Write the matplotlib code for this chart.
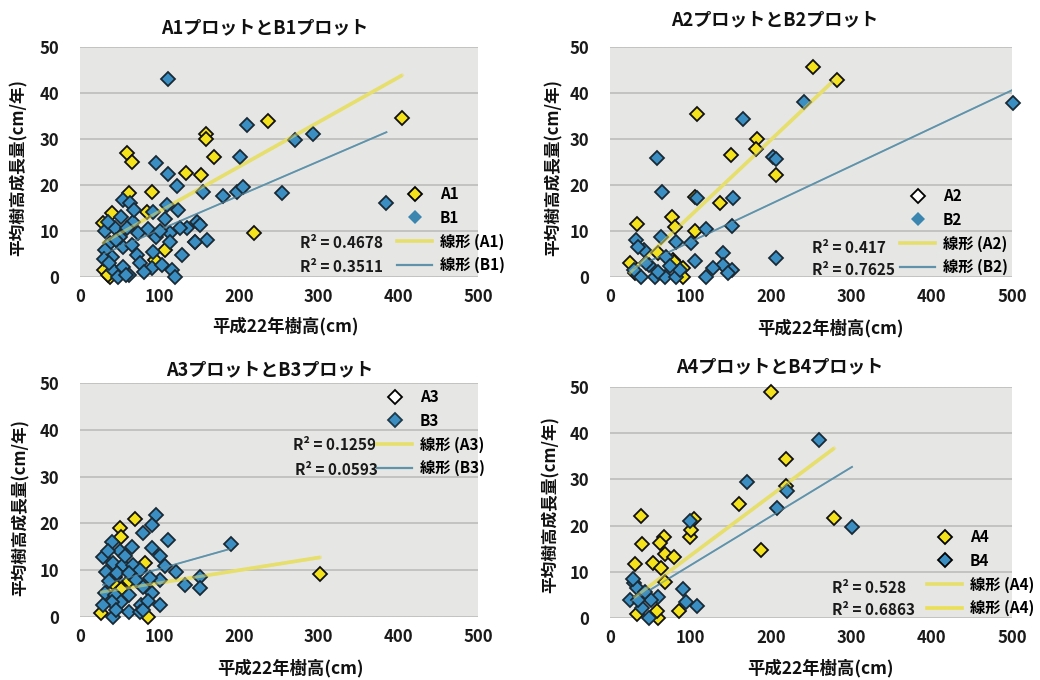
import matplotlib
matplotlib.use("Agg")
import matplotlib.pyplot as plt
from matplotlib.lines import Line2D
import numpy as np

plt.rcParams['font.family'] = ['Noto Sans CJK JP', 'DejaVu Sans']

# ---------------- data ----------------
A1_x = [405, 236, 158, 158, 168, 59, 65, 133, 152, 90, 62, 218, 40, 29, 107, 84, 30, 38, 94, 35]
A1_y = [34.5, 34, 31, 30, 26, 27, 25, 22.6, 22.2, 18.5, 18.2, 9.5, 14, 11.7, 5.8, 14.2, 1.5, 0.1, 3.7, 0.5]
B1_x = [110, 210, 270, 293, 201, 96, 111, 122, 154, 180, 197, 205, 254, 385, 54, 63, 109, 123, 92,
        52, 67, 107, 147, 134, 151, 31, 44, 59, 73, 96, 113, 126, 159, 144, 113, 145, 128, 92, 90,
        103, 115, 119, 38, 54, 71, 40, 31, 42, 54, 61, 48, 50, 30,
        35, 45, 65, 75, 58, 85, 100, 68, 36, 80]
B1_y = [43, 33, 29.8, 31, 26, 24.8, 22.5, 19.8, 18.4, 17.6, 18.4, 19.6, 18.2, 16, 16.7, 16, 15.6, 14.6, 14.2,
        13.1, 12, 12.7, 12, 10.6, 11.3, 9.9, 10.6, 10.6, 9.5, 8.8, 9.5, 10.6, 8, 7.7, 7.7, 7.6, 4.8, 5.4, 2,
        2.6, 1.5, 0, 7.3, 6.6, 4.8, 4.4, 5.9, 1.5, 2.2, 0.4, 0.1, 8.8, 4,
        12, 8, 7, 3, 0.5, 10.5, 10, 14.5, 3, 1]

A2_x = [253, 282, 108, 183, 181, 151, 206, 137, 106, 77, 81, 106, 34, 25, 31, 91, 78, 60, 91, 80]
A2_y = [45.6, 42.8, 35.4, 30, 27.8, 26.5, 22.2, 16.1, 17.4, 13, 10.9, 10, 11.5, 3, 0.9, 2, 3.7, 5.2, 0, 3.3]
B2_x = [501, 241, 165, 203, 207, 58, 65, 108, 153, 152, 120, 101, 82, 64, 32, 42, 106, 141, 141, 128,
        120, 152, 206, 70, 49, 147, 39, 56, 68, 82, 87, 30, 45, 60, 75, 35]
B2_y = [37.8, 38, 34.3, 26, 25.6, 25.8, 18.5, 17.2, 17.2, 11, 10.5, 7.4, 7.6, 8.7, 8, 5.8, 3.5, 5.2, 2.6, 2,
        0, 1.5, 4.1, 4.4, 2.6, 0.8, 0, 0.1, 0, 0, 1.5, 1.5, 3, 1, 2.5, 6.5]

A3_x = [302, 69, 50, 52, 82, 86, 27, 44, 61, 52, 41]
A3_y = [9.2, 21, 19, 17.2, 11.5, 0, 0.8, 8.6, 7.6, 5.9, 7.2]
B3_x = [190, 96, 90, 79, 111, 40, 90, 50, 100, 29, 107, 121, 42, 54, 67, 75, 33, 46, 61, 36, 100, 88,
        132, 151, 151, 79, 31, 44, 61, 90, 52, 40, 77, 100, 61, 42, 75, 29, 79,
        35, 57, 70, 85, 65, 45]
B3_y = [15.6, 21.8, 19.7, 17.9, 16.5, 16.1, 14.7, 14, 13, 12.9, 10.8, 9.7, 11.5, 11.1, 11.1, 10.1, 9.7, 9.4,
        9.4, 7.6, 7.9, 8.3, 6.9, 8.6, 6.1, 6.5, 5.1, 4.7, 4.7, 5.1, 3.3, 3.3, 2.6, 2.6, 1.1, 0.1, 1.1, 2.6, 1.5,
        14, 13, 8, 3.5, 15, 1.5]

A4_x = [200, 219, 219, 160, 279, 188, 39, 104, 100, 101, 40, 67, 62, 68, 80, 31, 54, 64, 68, 86, 33, 60, 58]
A4_y = [49, 34.5, 28.5, 24.6, 21.6, 14.7, 22, 21.4, 17.5, 19, 16, 17.6, 16.3, 13.8, 13.3, 11.6, 11.8, 10.8,
        7.7, 1.6, 0.9, 0, 1.5]
B4_x = [260, 170, 220, 208, 301, 100, 91, 94, 108, 30, 60, 51, 40, 48, 25, 33, 44, 35, 28]
B4_y = [38.5, 29.4, 27.5, 23.9, 19.8, 20.9, 6.2, 3.4, 2.6, 7.6, 4.5, 4, 2.2, 0, 3.8, 6.4, 5.7, 3.9, 8.5]

# linear trend lines (slope, intercept)
trend_A1 = (0.097, 4.6)
trend_B1 = (0.0745, 2.8)
trend_A2 = (0.165, -3.2)
trend_B2 = (0.0824, -0.6)
trend_A3 = (0.027, 4.6)
trend_B3 = (0.048, 5.5)
trend_A4 = (0.13, 0.5)
trend_B4 = (0.106, 0.8)

r2_labels = [["R² = 0.4678", "R² = 0.3511"],
             ["R² = 0.417", "R² = 0.7625"],
             ["R² = 0.1259", "R² = 0.0593"],
             ["R² = 0.528", "R² = 0.6863"]]
legend_labels = [["A1", "B1", "線形 (A1)", "線形 (B1)"],
                 ["A2", "B2", "線形 (A2)", "線形 (B2)"],
                 ["A3", "B3", "線形 (A3)", "線形 (B3)"],
                 ["A4", "B4", "線形 (A4)", "線形 (A4)"]]
titles = ["A1プロットとB1プロット", "A2プロットとB2プロット", "A3プロットとB3プロット", "A4プロットとB4プロット"]
xlabel = "平成22年樹高(cm)"
ylabel = "平均樹高成長量(cm/年)"
x_ticks = [0, 100, 200, 300, 400, 500]
y_ticks = [0, 10, 20, 30, 40, 50]

# ---------------- style ----------------
YEL = '#f3e21c'
BLU = '#3a8ec2'
YEL_LINE = '#e7df6c'
BLU_LINE = '#5f93ab'
BG = '#e6e6e4'
GRID = '#bcbcba'

W, H = 1040, 680
fig = plt.figure(figsize=(10.4, 6.8), dpi=100)
fig.patch.set_facecolor('white')

def fx(px):
    return px / W

def fy(py):
    return 1 - py / H

# axes rectangles in pixels: left, top, right, bottom
rects = [(80, 47, 478, 277), (610, 47, 1012, 277), (80, 383, 478, 617), (610, 387, 1012, 618)]

series = [(A1_x, A1_y, B1_x, B1_y, trend_A1, trend_B1),
          (A2_x, A2_y, B2_x, B2_y, trend_A2, trend_B2),
          (A3_x, A3_y, B3_x, B3_y, trend_A3, trend_B3),
          (A4_x, A4_y, B4_x, B4_y, trend_A4, trend_B4)]

title_pos = [(265, 28), (775, 20), (270, 370), (780, 367)]
ylab_pos = [(19, 168), (554, 168), (21, 508), (551, 505)]
xlab_pos = [(285, 326), (830, 328), (290, 668), (820, 668)]
legend_pos = [(397, 186), (900, 188), (377, 389), (927, 529)]
r2_pos = [[(300, 243), (300, 267)], [(812, 248), (812, 270)],
          [(293, 445), (295, 470)], [(832, 588), (832, 610)]]

# legend handle styles per panel: (A face, A edge, B face, B edge, line1 color, line2 color)
leg_styles = [(YEL, 'black', '#3a86b0', 'none', YEL_LINE, BLU_LINE),
              ('white', 'black', '#3a86b0', 'none', YEL_LINE, BLU_LINE),
              ('white', 'black', BLU, '#1d3a4a', YEL_LINE, BLU_LINE),
              (YEL, 'black', BLU, 'black', YEL_LINE, '#eadf55')]

for i, (l, t, r, b) in enumerate(rects):
    ax = fig.add_axes([fx(l), fy(b), fx(r - l), (b - t) / H])
    ax.set_facecolor(BG)
    ax.set_xlim(0, 500)
    ax.set_ylim(0, 50)
    for s in ax.spines.values():
        s.set_visible(False)
    ax.set_yticks(y_ticks)
    ax.set_xticks(x_ticks)
    ax.tick_params(length=0, labelsize=12, pad=8, colors='#1a1a1a')
    ax.tick_params(axis='y', pad=15)
    for lab in ax.get_xticklabels() + ax.get_yticklabels():
        lab.set_fontweight('bold')
    ax.grid(axis='y', color=GRID, lw=1.2)
    ax.set_axisbelow(True)

    ax_x, ax_y, bx_x, bx_y, ta, tb = series[i]
    # trend lines over the range of each series
    xa = np.array([min(ax_x), max(ax_x)])
    xb = np.array([min(bx_x), max(bx_x)])
    ax.plot(xa, ta[0] * xa + ta[1], color=YEL_LINE, lw=2.6, zorder=2, solid_capstyle='butt')
    ax.plot(xb, tb[0] * xb + tb[1], color=BLU_LINE, lw=1.3, zorder=2)

    ax.plot(ax_x, ax_y, 'D', ms=7, mfc=YEL, mec='#111111', mew=1.3, ls='none', zorder=3, clip_on=False)
    ax.plot(bx_x, bx_y, 'D', ms=7, mfc=BLU, mec='#1a2a35', mew=1.3, ls='none', zorder=4, clip_on=False)
    # the trend lines show faintly over the markers, as in the picture
    ax.plot(xa, ta[0] * xa + ta[1], color=YEL_LINE, lw=2.2, zorder=5, alpha=0.5)
    ax.plot(xb, tb[0] * xb + tb[1], color=BLU_LINE, lw=1.1, zorder=5, alpha=0.55)

    st = leg_styles[i]
    handles = [Line2D([], [], marker='D', ms=7, mfc=st[0], mec=st[1], mew=1.3, ls='none'),
               Line2D([], [], marker='D', ms=7, mfc=st[2], mec=st[3], mew=1.3, ls='none'),
               Line2D([], [], color=st[4], lw=2.6),
               Line2D([], [], color=st[5], lw=1.6 if i < 3 else 2.6)]
    lg = fig.legend(handles, legend_labels[i], loc='upper left',
                    bbox_to_anchor=(fx(legend_pos[i][0]), fy(legend_pos[i][1])),
                    frameon=False, borderpad=0, borderaxespad=0, handlelength=2.3,
                    handletextpad=0.5, labelspacing=0.5, numpoints=1,
                    prop={'weight': 'bold', 'size': 11})
    lg.set_zorder(10)

    for k in range(2):
        px, py = r2_pos[i][k]
        fig.text(fx(px), fy(py), r2_labels[i][k], ha='left', va='center',
                 fontsize=11, fontweight='bold', color='#1a1a1a')

    fig.text(fx(title_pos[i][0]), fy(title_pos[i][1]), titles[i], ha='center', va='center',
             fontsize=13, fontweight='bold', color='#111111')
    fig.text(fx(ylab_pos[i][0]), fy(ylab_pos[i][1]), ylabel, ha='center', va='center',
             rotation=90, fontsize=12, fontweight='bold', color='#111111')
    fig.text(fx(xlab_pos[i][0]), fy(xlab_pos[i][1]), xlabel, ha='center', va='center',
             fontsize=12.5, fontweight='bold', color='#111111')

fig.savefig('out.png', dpi=100, facecolor='white')
